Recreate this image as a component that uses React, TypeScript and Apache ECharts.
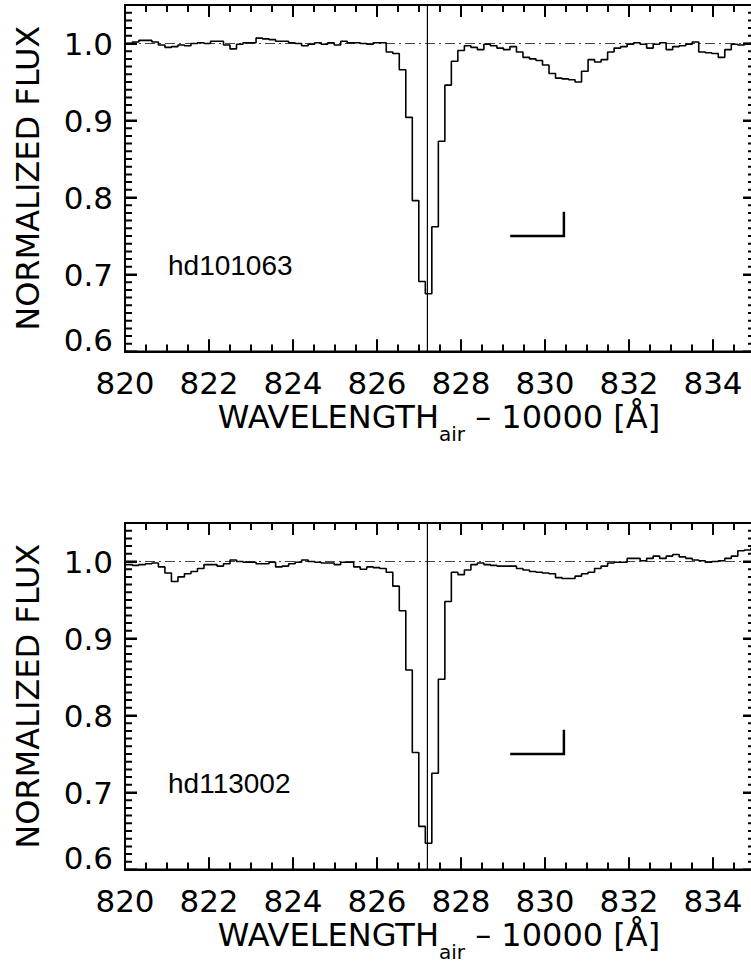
import React, { useEffect, useRef } from "react";
import * as echarts from "echarts";

// ---------- data ----------
const STAR_NAMES = ["hd101063", "hd113002"];
const WAVE_START = 819.943; // centre of first spectral bin (Å, minus 10000)
const WAVE_STEP = 0.155; // bin width (Å)

const FLUX_HD101063 = [
  1.0, 1.0, 1.002, 1.004, 1.004, 1.002, 0.998, 0.995, 0.996, 0.998,
  0.997, 1.0, 1.001, 1.0, 1.003, 1.003, 0.998, 0.993, 0.999, 1.001,
  1.001, 1.007, 1.006, 1.005, 1.003, 1.003, 1.001, 1.0, 0.997, 0.999,
  1.001, 0.999, 1.001, 0.998, 1.003, 1.001, 1.001, 1.0, 0.999, 1.001,
  1.001, 0.989, 0.987, 0.966, 0.904, 0.796, 0.691, 0.675, 0.762, 0.873,
  0.946, 0.977, 0.991, 0.997, 0.995, 0.992, 0.999, 0.997, 0.994, 0.992,
  0.996, 0.989, 0.982, 0.98, 0.978, 0.972, 0.961, 0.955, 0.954, 0.953,
  0.95, 0.964, 0.979, 0.976, 0.979, 0.989, 0.994, 0.996, 0.999, 1.001,
  0.999, 0.994, 0.999, 1.001, 0.992, 0.996, 0.997, 0.999, 1.002, 0.989,
  0.988, 0.987, 0.982, 0.992, 0.999, 0.998, 1.0, 1.0,
];

const FLUX_HD113002 = [
  0.996, 0.996, 0.995, 0.996, 0.997, 0.998, 0.993, 0.985, 0.974, 0.98,
  0.984, 0.987, 0.991, 0.996, 0.996, 0.994, 0.997, 1.002, 1.0, 0.999,
  0.999, 0.997, 0.997, 0.999, 0.993, 0.994, 0.997, 0.999, 1.002, 1.0,
  0.999, 0.998, 0.998, 0.996, 0.999, 0.999, 0.993, 0.99, 0.993, 0.992,
  0.991, 0.986, 0.968, 0.936, 0.859, 0.752, 0.656, 0.634, 0.725, 0.847,
  0.948, 0.986, 0.983, 0.989, 0.996, 0.998, 0.996, 0.995, 0.994, 0.994,
  0.994, 0.991, 0.989, 0.987, 0.986, 0.985, 0.984, 0.979, 0.978, 0.978,
  0.981, 0.984, 0.986, 0.991, 0.994, 0.998, 0.999, 0.999, 1.004, 1.004,
  1.001, 1.004, 1.007, 1.004, 1.007, 1.009, 1.006, 1.004, 1.002, 1.001,
  0.999, 1.0, 1.001, 1.004, 1.007, 1.014, 1.015, 1.017,
];

const X_MIN = 820;
const X_MAX = 835;
const Y_MIN = 0.6;
const Y_MAX = 1.05;
const X_TICK_LABELS = [820, 822, 824, 826, 828, 830, 832, 834];
const Y_TICK_LABELS = [0.6, 0.7, 0.8, 0.9, 1.0];
const X_MINOR_STEP = 0.5;
const Y_MINOR_STEP = 0.01;

const X_TITLE_MAIN = "WAVELENGTH";
const X_TITLE_SUB = "air";
const X_TITLE_REST = " – 10000 [Å]";
const Y_TITLE = "NORMALIZED FLUX";

const LINE_CENTER = 827.2; // vertical reference line
const CONTINUUM = 1.0;
const SCALE_BAR_X = [829.2, 830.45, 830.45];
const SCALE_BAR_Y = [0.75, 0.75, 0.78];

// ---------- layout ----------
const PANEL_TOPS = [5, 523];
const GRID_LEFT = 125;
const GRID_W = 630;
const GRID_H = 346.5;
const MAJOR_LEN = 12; // px
const MINOR_LEN = 7; // px
const TICK_W = 2; // px
const FONT = "DejaVu Sans";

// ---------- helpers ----------
const isLabelled = (list: number[], v: number) => list.some((t) => Math.abs(t - v) < 1e-6);
const stepList = (a: number, b: number, step: number) => {
  const out: number[] = [];
  const n = Math.round((b - a) / step);
  for (let i = 0; i <= n; i++) out.push(Math.round((a + i * step) * 1000) / 1000);
  return out;
};
const X_MINOR = stepList(X_MIN, X_MAX, X_MINOR_STEP).filter((v) => !isLabelled(X_TICK_LABELS, v));
const Y_MINOR = stepList(Y_MIN, Y_MAX, Y_MINOR_STEP).filter((v) => !isLabelled(Y_TICK_LABELS, v));

const spectrum = (flux: number[]) =>
  flux.map((f, i) => [Math.round((WAVE_START + i * WAVE_STEP) * 10000) / 10000, f]);

// comb-shaped polylines that run along each axis and step inward at every tick
const Y_PER_PX = (Y_MAX - Y_MIN) / GRID_H;
const X_PER_PX = (X_MAX - X_MIN) / GRID_W;
const ALL_X_TICKS = [...X_TICK_LABELS.map((v) => [v, MAJOR_LEN]), ...X_MINOR.map((v) => [v, MINOR_LEN])].sort(
  (a, b) => a[0] - b[0]
);
const ALL_Y_TICKS = [...Y_TICK_LABELS.map((v) => [v, MAJOR_LEN]), ...Y_MINOR.map((v) => [v, MINOR_LEN])].sort(
  (a, b) => a[0] - b[0]
);
function combX(yBase: number, dir: number) {
  const pts: number[][] = [[X_MIN, yBase]];
  ALL_X_TICKS.forEach(([v, len]) => {
    pts.push([v, yBase], [v, yBase + dir * len * Y_PER_PX], [v, yBase]);
  });
  pts.push([X_MAX, yBase]);
  return pts;
}
function combY(xBase: number, dir: number) {
  const pts: number[][] = [[xBase, Y_MIN]];
  ALL_Y_TICKS.forEach(([v, len]) => {
    pts.push([xBase, v], [xBase + dir * len * X_PER_PX, v], [xBase, v]);
  });
  pts.push([xBase, Y_MAX]);
  return pts;
}
const TICK_COMBS = [combX(Y_MIN, 1), combX(Y_MAX, -1), combY(X_MIN, 1), combY(X_MAX, -1)];

function measure(text: string, size: number) {
  const c = document.createElement("canvas").getContext("2d");
  if (!c) return text.length * size * 0.6;
  c.font = `${size}px "${FONT}"`;
  return c.measureText(text).width;
}

export default function App() {
  const ref = useRef<HTMLDivElement>(null);

  useEffect(() => {
    if (!ref.current) return;
    const chart = echarts.init(ref.current, null, { renderer: "svg" });

    const grid: any[] = [];
    const xAxis: any[] = [];
    const yAxis: any[] = [];
    const series: any[] = [];
    const graphic: any[] = [];

    const axisLineStyle = { color: "#000", width: 2 };

    const mainSize = 32;
    const subSize = 20;
    const wMain = measure(X_TITLE_MAIN, mainSize);
    const wSub = measure(X_TITLE_SUB, subSize);
    const wRest = measure(X_TITLE_REST, mainSize);
    const total = wMain + wSub + wRest;
    const titleCenterX = GRID_LEFT + GRID_W / 2 - 1;

    PANEL_TOPS.forEach((top, p) => {
      grid.push({ left: GRID_LEFT, top, width: GRID_W, height: GRID_H });
      const baseX = { type: "value", gridIndex: p, min: X_MIN, max: X_MAX, splitLine: { show: false } };
      const baseY = { type: "value", gridIndex: p, min: Y_MIN, max: Y_MAX, splitLine: { show: false } };

      xAxis.push({
        ...baseX,
        position: "bottom",
        interval: 2,
        axisLine: { show: true, onZero: false, lineStyle: axisLineStyle },
        axisTick: { show: true, inside: true, length: MAJOR_LEN, lineStyle: { color: "#000", width: TICK_W } },
        axisLabel: {
          show: true,
          margin: 16,
          fontSize: 31,
          fontFamily: FONT,
          color: "#000",
          showMaxLabel: false,
          formatter: (v: number) => (isLabelled(X_TICK_LABELS, v) ? String(Math.round(v)) : ""),
        },
      });
      xAxis.push({
        ...baseX,
        position: "top",
        interval: 2,
        axisLine: { show: true, onZero: false, lineStyle: axisLineStyle },
        axisTick: { show: true, inside: true, length: MAJOR_LEN, lineStyle: { color: "#000", width: TICK_W } },
        axisLabel: { show: false },
      });

      yAxis.push({
        ...baseY,
        position: "left",
        interval: 0.1,
        axisLine: { show: true, onZero: false, lineStyle: axisLineStyle },
        axisTick: { show: true, inside: true, length: MAJOR_LEN, lineStyle: { color: "#000", width: TICK_W } },
        axisLabel: {
          show: true,
          margin: 12,
          showMaxLabel: false,
          formatter: (v: number) => {
            if (!isLabelled(Y_TICK_LABELS, v)) return "";
            return Math.abs(v - Y_MIN) < 1e-6 ? `{lift|${v.toFixed(1)}}` : `{n|${v.toFixed(1)}}`;
          },
          rich: {
            n: { fontSize: 31, fontFamily: FONT, color: "#000", lineHeight: 31 },
            lift: { fontSize: 31, fontFamily: FONT, color: "#000", lineHeight: 31, padding: [0, 0, 24, 0] },
          },
        },
        name: Y_TITLE,
        nameLocation: "middle",
        nameRotate: 90,
        nameGap: 81,
        nameTextStyle: { fontSize: 32, fontFamily: FONT, color: "#000" },
      });
      yAxis.push({
        ...baseY,
        position: "right",
        interval: 0.1,
        axisLine: { show: true, onZero: false, lineStyle: axisLineStyle },
        axisTick: { show: true, inside: true, length: MAJOR_LEN, lineStyle: { color: "#000", width: TICK_W } },
        axisLabel: { show: false },
      });

      const xi = 2 * p;
      const yi = 2 * p;
      const flux = p === 0 ? FLUX_HD101063 : FLUX_HD113002;

      // tick combs (continuous polylines along the four axes)
      TICK_COMBS.forEach((pts) =>
        series.push({
          type: "line",
          xAxisIndex: xi,
          yAxisIndex: yi,
          data: pts,
          symbol: "none",
          silent: true,
          z: 5,
          lineStyle: { color: "#000", width: TICK_W, cap: "butt", join: "miter" },
        })
      );

      series.push({
        type: "line",
        xAxisIndex: xi,
        yAxisIndex: yi,
        data: [
          [X_MIN, CONTINUUM],
          [X_MAX, CONTINUUM],
        ],
        symbol: "none",
        silent: true,
        lineStyle: { color: "#444", width: 1.2, type: [10, 4, 2, 4] },
      });
      series.push({
        type: "line",
        xAxisIndex: xi,
        yAxisIndex: yi,
        data: spectrum(flux),
        step: "middle",
        symbol: "none",
        clip: true,
        silent: true,
        lineStyle: { color: "#000", width: 1.6 },
      });
      series.push({
        type: "line",
        xAxisIndex: xi,
        yAxisIndex: yi,
        data: [
          [LINE_CENTER, Y_MIN],
          [LINE_CENTER, Y_MAX],
        ],
        symbol: "none",
        silent: true,
        lineStyle: { color: "#000", width: 1.2 },
      });
      series.push({
        type: "line",
        xAxisIndex: xi,
        yAxisIndex: yi,
        data: SCALE_BAR_X.map((x, i) => [x, SCALE_BAR_Y[i]]),
        symbol: "none",
        silent: true,
        lineStyle: { color: "#000", width: 2.5, cap: "square", join: "miter" },
      });

      // star name
      graphic.push({
        type: "text",
        x: 168,
        y: top + 260,
        style: {
          text: STAR_NAMES[p],
          fontSize: 28,
          fontFamily: "Liberation Sans",
          fill: "#000",
          verticalAlign: "middle",
          align: "left",
        },
      });

      // x-axis title with subscript
      const bottom = top + GRID_H;
      const x0 = titleCenterX - total / 2;
      const yMain = bottom + 65;
      const ySub = bottom + 82;
      graphic.push({
        type: "text",
        x: x0,
        y: yMain,
        style: { text: X_TITLE_MAIN, fontSize: mainSize, fontFamily: FONT, fill: "#000", verticalAlign: "middle", align: "left" },
      });
      graphic.push({
        type: "text",
        x: x0 + wMain,
        y: ySub,
        style: { text: X_TITLE_SUB, fontSize: subSize, fontFamily: FONT, fill: "#000", verticalAlign: "middle", align: "left" },
      });
      graphic.push({
        type: "text",
        x: x0 + wMain + wSub,
        y: yMain,
        style: { text: X_TITLE_REST, fontSize: mainSize, fontFamily: FONT, fill: "#000", verticalAlign: "middle", align: "left" },
      });
    });

    chart.setOption({
      animation: false,
      backgroundColor: "#fff",
      grid,
      xAxis,
      yAxis,
      series,
      graphic,
    });

    return () => chart.dispose();
  }, []);

  return (
    <div
      style={{
        position: "absolute",
        left: 0,
        top: 0,
        width: 751,
        height: 967,
        overflow: "hidden",
        background: "#fff",
      }}
    >
      <div ref={ref} style={{ width: 770, height: 967 }} />
    </div>
  );
}
